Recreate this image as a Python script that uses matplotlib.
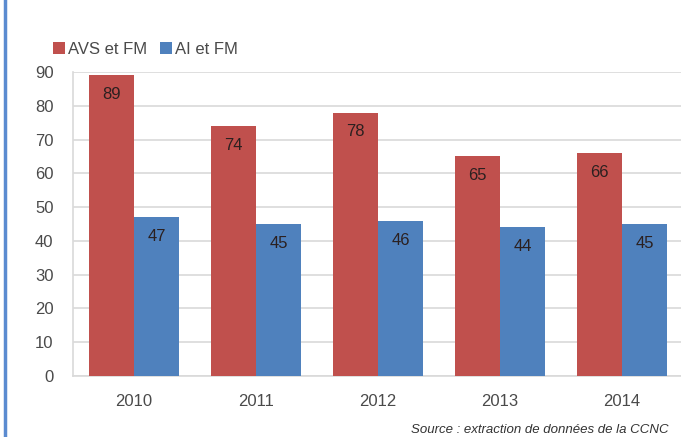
import numpy as np
import matplotlib.pyplot as plt
from matplotlib.lines import Line2D

years = ['2010', '2011', '2012', '2013', '2014']
avs_fm = [89, 74, 78, 65, 66]
ai_fm = [47, 45, 46, 44, 45]

red = '#c0504d'
blue = '#4f81bd'
grey_txt = '#4a4a4a'

plt.rcParams['font.family'] = ['Liberation Sans', 'DejaVu Sans']

fig = plt.figure(figsize=(6.81, 4.37), dpi=100)
ax = fig.add_axes([73 / 681, 1 - 376 / 437, 610 / 681, 304 / 437])

x = np.arange(len(years))
w = 0.369
b1 = ax.bar(x - w / 2, avs_fm, w, color=red, label='AVS et FM', zorder=3)
b2 = ax.bar(x + w / 2, ai_fm, w, color=blue, label='AI et FM', zorder=3)

# value labels just inside the top of each bar
for bars, vals in ((b1, avs_fm), (b2, ai_fm)):
    for r, v in zip(bars, vals):
        ax.annotate(str(v), (r.get_x() + r.get_width() / 2, v), xytext=(0, -14),
                    textcoords='offset points', ha='center', va='center',
                    fontsize=12, color='#2b2020', zorder=4)

ax.set_xlim(-0.5, 4.5)
ax.set_ylim(0, 90)
ax.set_yticks(range(0, 91, 10))
ax.set_xticks(x)
ax.set_xticklabels(years)
ax.tick_params(axis='both', length=0, labelsize=12, colors=grey_txt)
ax.tick_params(axis='y', pad=14)
ax.tick_params(axis='x', pad=13)
ax.grid(axis='y', color='#d9d9d9', lw=1.2, zorder=0)
for s in ('top', 'right'):
    ax.spines[s].set_visible(False)
for s in ('left', 'bottom'):
    ax.spines[s].set_color('#d9d9d9')
    ax.spines[s].set_linewidth(1.2)

ax.legend(loc='lower left', bbox_to_anchor=(53 / 681, 1 - 57 / 437),
          bbox_transform=fig.transFigure, ncol=2, frameon=False,
          fontsize=12, handlelength=0.7, handleheight=0.7, handletextpad=0.2,
          columnspacing=0.8, labelcolor=grey_txt, borderaxespad=0, borderpad=0)

fig.text(669 / 681, 1 - 430 / 437, 'Source : extraction de données de la CCNC',
         ha='right', va='center', fontsize=9.5, style='italic', color='#333333')

fig.add_artist(Line2D([5 / 681, 5 / 681], [0, 1], transform=fig.transFigure,
                      color='#5b8bd0', lw=2.5))

fig.savefig('out.png', dpi=100)
